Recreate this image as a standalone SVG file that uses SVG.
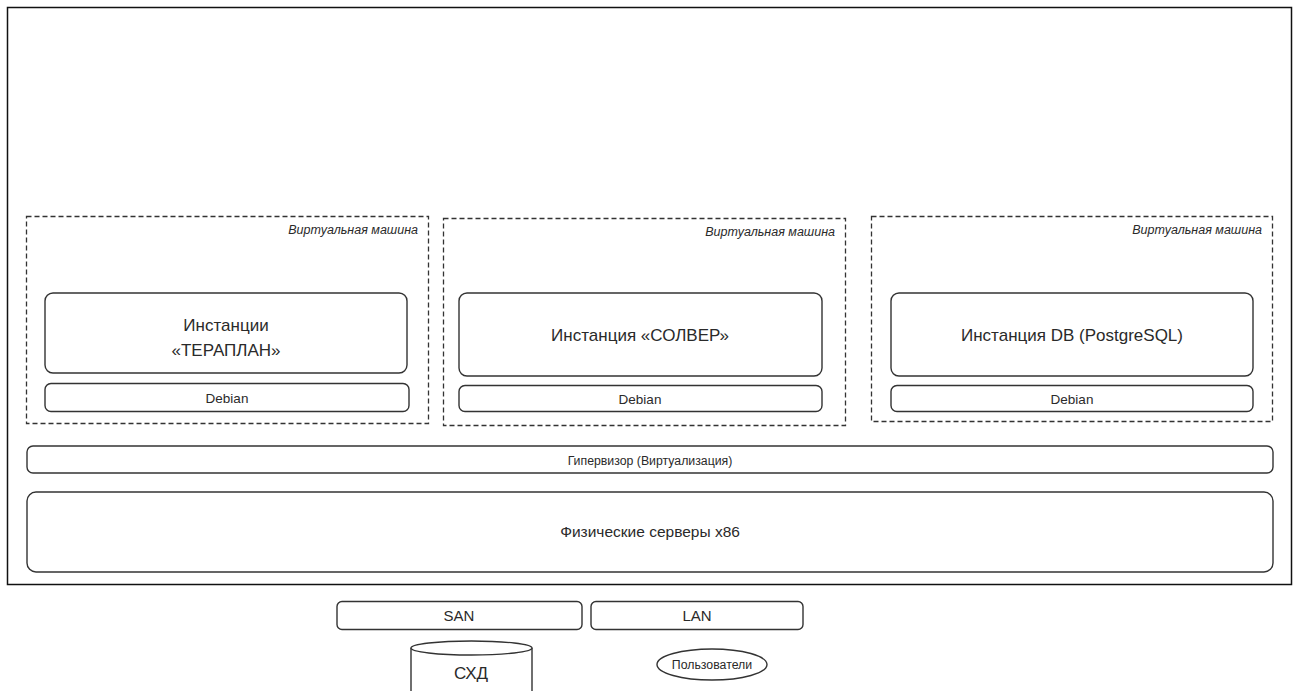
<svg xmlns="http://www.w3.org/2000/svg" width="1299" height="691" viewBox="0 0 1299 691">
<style>
  .box{fill:#fff;stroke:#333;stroke-width:1.4}
  .vm{fill:none;stroke:#333;stroke-width:1.3;stroke-dasharray:5 3}
  text{font-family:"Liberation Sans",Arial,sans-serif;fill:#2a2a2a;text-anchor:middle}
  .vml{font-style:italic;font-size:12.5px;text-anchor:end}
  .big{font-size:17px}
  .sm{font-size:13.5px}
  .mid{font-size:15px}
</style>
<rect width="1299" height="691" fill="#fff"/>
<g id="outer"><rect x="7.5" y="7.5" width="1284" height="577" fill="none" stroke="#111" stroke-width="1.5"/></g>
<g id="vm1">
  <rect class="vm" x="26.5" y="216.5" width="402" height="207"/>
  <text class="vml" x="418" y="234">Виртуальная машина</text>
  <g id="terraplan"><rect class="box" x="45" y="293" width="362" height="80" rx="8"/>
  <text class="big" x="226" y="331">Инстанции</text><text class="big" x="226" y="356">«ТЕРАПЛАН»</text></g>
  <g id="debian1"><rect class="box" x="45" y="383.5" width="364" height="28" rx="6"/><text class="sm" x="227" y="402.5">Debian</text></g>
</g>
<g id="vm2">
  <rect class="vm" x="443.5" y="218.5" width="402" height="207"/>
  <text class="vml" x="835" y="236">Виртуальная машина</text>
  <g id="solver"><rect class="box" x="459" y="293" width="363" height="83" rx="8"/>
  <text class="big" x="640" y="341">Инстанция «СОЛВЕР»</text></g>
  <g id="debian2"><rect class="box" x="459" y="385.5" width="363" height="26" rx="6"/><text class="sm" x="640" y="403.5">Debian</text></g>
</g>
<g id="vm3">
  <rect class="vm" x="871.5" y="216.5" width="401" height="205"/>
  <text class="vml" x="1262" y="234">Виртуальная машина</text>
  <g id="db"><rect class="box" x="891" y="293" width="362" height="83" rx="8"/>
  <text class="big" x="1072" y="341">Инстанция DB (PostgreSQL)</text></g>
  <g id="debian3"><rect class="box" x="891" y="385.5" width="362" height="26" rx="6"/><text class="sm" x="1072" y="403.5">Debian</text></g>
</g>
<g id="hypervisor"><rect class="box" x="27" y="446" width="1246" height="27" rx="6"/><text x="650" y="464.5" style="font-size:12.3px">Гипервизор (Виртуализация)</text></g>
<g id="physical"><rect class="box" x="27" y="492" width="1246" height="80" rx="9"/><text x="650" y="537" style="font-size:15.5px">Физические серверы x86</text></g>
<g id="san"><rect class="box" x="337" y="601.5" width="245" height="28" rx="5"/><text class="mid" x="459" y="621">SAN</text></g>
<g id="lan"><rect class="box" x="591" y="601.5" width="212" height="28" rx="5"/><text class="mid" x="697" y="621">LAN</text></g>
<g id="storage">
  <path class="box" d="M411,648 L411,695 L532,695 L532,648"/>
  <ellipse class="box" cx="471.5" cy="648" rx="60.5" ry="7"/>
  <text x="471" y="679" style="font-size:17px">СХД</text>
</g>
<g id="users"><ellipse class="box" cx="712" cy="664.5" rx="55" ry="15.5"/><text x="712" y="669" style="font-size:12.3px">Пользователи</text></g>
<g id="connectors"></g>
</svg>
